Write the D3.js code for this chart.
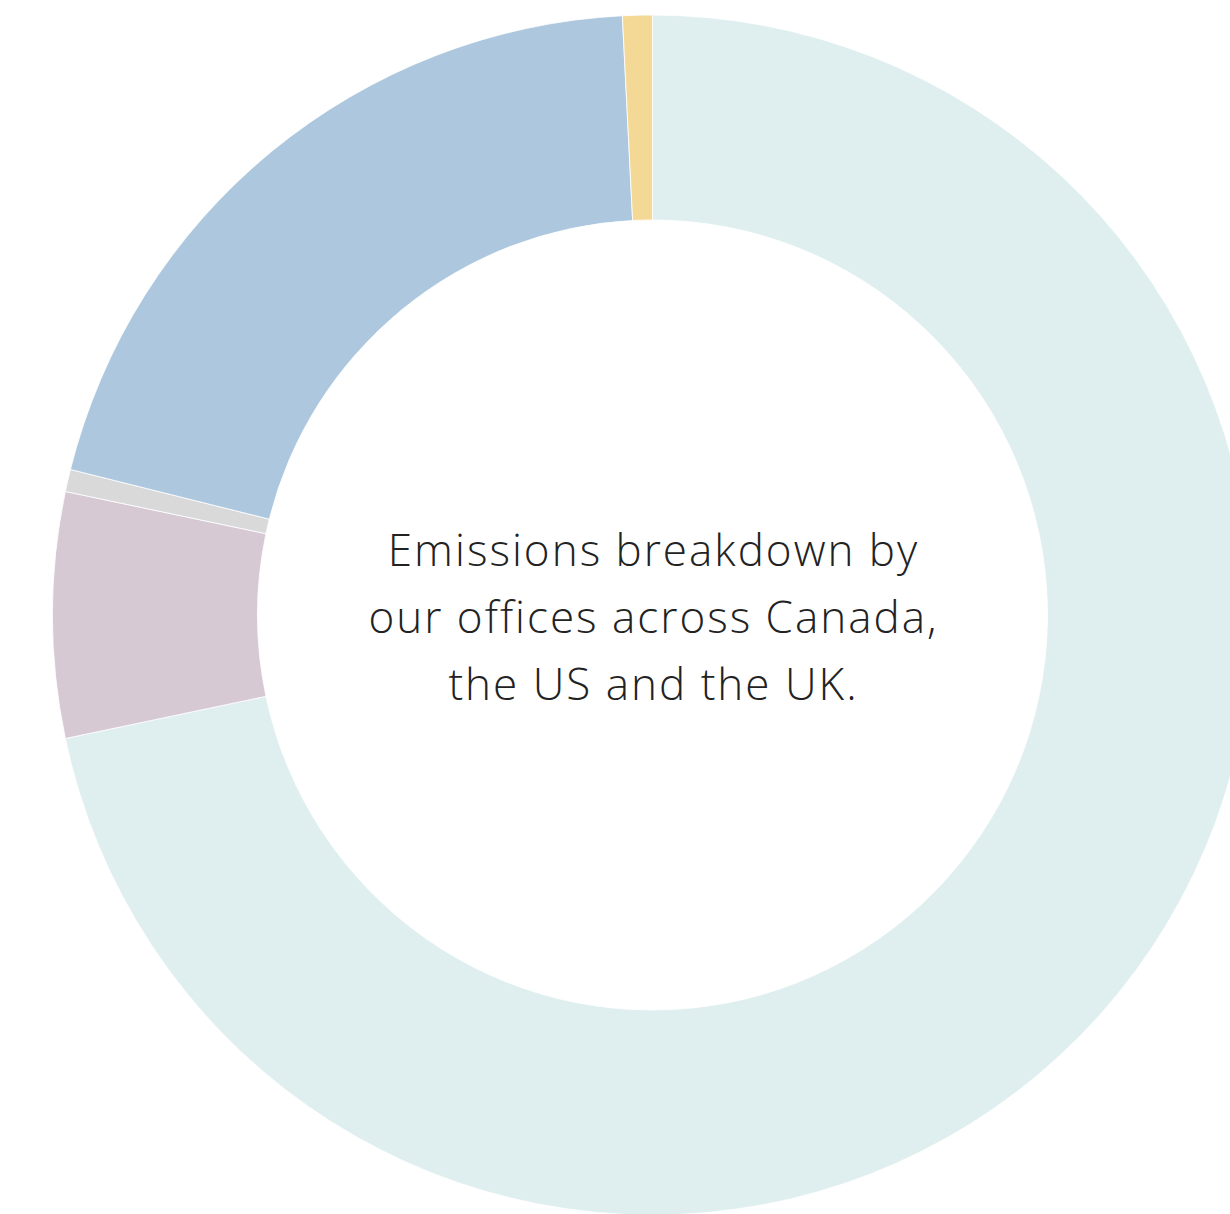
<!DOCTYPE html>
<html>
<head>
<meta charset="utf-8">
<script src="https://cdn.jsdelivr.net/npm/d3@7"></script>
<style>
  html, body { margin: 0; padding: 0; background: #fff; overflow: hidden; }
  #chart svg { display: block; }
  .label { font-family: "Open Sans", Lato, sans-serif; font-weight: 300; fill: #222; letter-spacing: 2px; }
</style>
</head>
<body>
<div id="chart"></div>
<script>
const offices = ["Office 1", "Office 2", "Office 3", "Office 4", "Office 5"];
const shares = [71.7, 6.6, 0.6, 20.3, 0.8];
const colors = ["#dfeeef", "#d6c9d4", "#d9d9d9", "#adc8de", "#f4d896"];
const caption = ["Emissions breakdown by", "our offices across Canada,", "the US and the UK."];

const width = 1230, height = 1214;
const cx = 652.5, cy = 615;
const outerR = 600, innerR = 395;

const data = offices.map((name, i) => ({ name, value: shares[i] }));

const svg = d3.select("#chart").append("svg")
  .attr("width", width)
  .attr("height", height);

const g = svg.append("g")
  .attr("transform", `translate(${cx},${cy})`);

const pie = d3.pie()
  .sort(null)
  .value(d => d.value);

const arc = d3.arc()
  .innerRadius(innerR)
  .outerRadius(outerR);

const color = d3.scaleOrdinal()
  .domain(offices)
  .range(colors);

g.selectAll(".slice")
  .data(pie(data))
  .enter()
  .append("path")
  .attr("class", "slice")
  .attr("d", arc)
  .attr("fill", d => color(d.data.name))
  .attr("stroke", "#fff")
  .attr("stroke-width", 0.8);

// centre caption
g.append("text")
  .attr("class", "label")
  .attr("text-anchor", "middle")
  .style("font-size", "44px")
  .selectAll("tspan")
  .data(caption)
  .enter()
  .append("tspan")
  .attr("x", 1)
  .attr("y", (d, i) => -49 + i * 67)
  .text(d => d);
</script>
</body>
</html>
